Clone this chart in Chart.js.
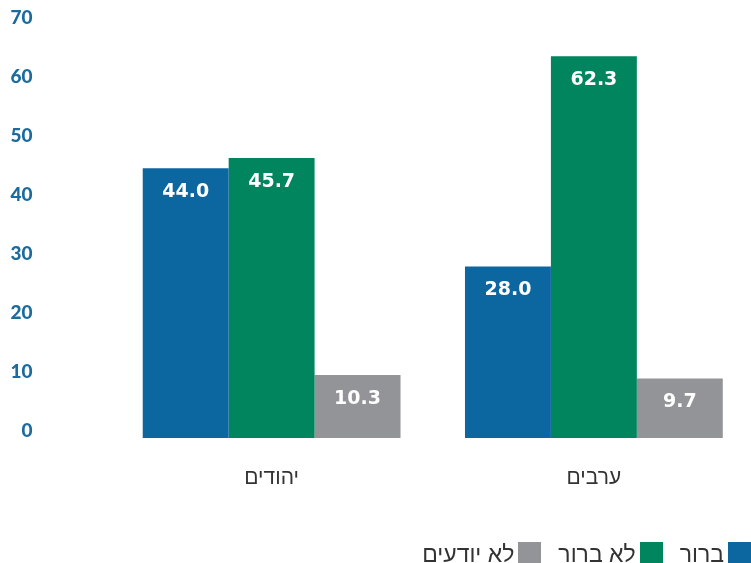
<!DOCTYPE html>
<html>
<head>
<meta charset="utf-8">
<script src="https://cdn.jsdelivr.net/npm/chart.js@4/dist/chart.umd.min.js"></script>
<style>
    html, body { margin: 0; padding: 0; background: #fff; overflow: hidden; }
    #wrap { position: relative; width: 751px; height: 563px; overflow: hidden; }
    #chartBox { position: absolute; left: 0; top: 0; width: 755px; height: 563px; }
    #legend {
        position: absolute; right: 0; bottom: 0;
        display: flex; align-items: flex-end; gap: 17px;
        font-family: "Liberation Sans", Arial, sans-serif; font-size: 23px; color: #333;
    }
    .item { display: flex; align-items: flex-end; gap: 4px; }
    .box { width: 23px; height: 21px; }
    .lbl { line-height: 20px; position: relative; top: 1px; }
</style>
</head>
<body>
<div id="wrap">
    <div id="chartBox"><canvas id="pollChart" width="755" height="563"></canvas></div>
    <div id="legend" dir="rtl"></div>
</div>
<script>
// categories and series
var groups = ['יהודים', 'ערבים'];
var seriesNames = ['ברור', 'לא ברור', 'לא יודעים'];
var clearValues = [44.0, 28.0];
var unclearValues = [45.7, 62.3];
var dontKnowValues = [10.3, 9.7];
var seriesColors = ['#0c67a0', '#00855f', '#939498'];

// Function to draw the values inside the top of each bar
var valueLabels = {
    id: 'valueLabels',
    afterDatasetsDraw: function (chart) {
        var ctx = chart.ctx;
        ctx.save();
        ctx.fillStyle = '#fff';
        ctx.font = 'bold 19px "DejaVu Sans"';
        ctx.textAlign = 'center';
        ctx.textBaseline = 'middle';
        chart.data.datasets.forEach(function (ds, i) {
            chart.getDatasetMeta(i).data.forEach(function (bar, j) {
                ctx.fillText(ds.data[j].toFixed(1), bar.x, bar.y + 24);
            });
        });
        ctx.restore();
    }
};

var ctx = document.getElementById('pollChart').getContext('2d');
var pollChart = new Chart(ctx, {
    type: 'bar',
    data: {
        labels: groups,
        datasets: [
            { label: seriesNames[0], data: clearValues, backgroundColor: seriesColors[0] },
            { label: seriesNames[1], data: unclearValues, backgroundColor: seriesColors[1] },
            { label: seriesNames[2], data: dontKnowValues, backgroundColor: seriesColors[2] }
        ]
    },
    options: {
        responsive: false,
        animation: false,
        layout: { padding: { top: 9, right: 0, left: 0, bottom: 0 } },
        datasets: {
            bar: { categoryPercentage: 0.8, barPercentage: 1.0 }
        },
        scales: {
            x: {
                grid: { display: false, drawTicks: false },
                border: { display: false },
                ticks: {
                    color: '#333',
                    padding: 28,
                    font: { family: '"Liberation Sans", Arial, sans-serif', size: 21 }
                },
                afterFit: function (scale) { scale.height = 125; }
            },
            y: {
                display: false,
                min: 0,
                max: 70
            },
            // tick labels in the original sit on a slightly tighter spacing than the bars
            yTicks: {
                position: 'left',
                min: -1.19,
                max: 71.53,
                grid: { display: false, drawTicks: false },
                border: { display: false },
                ticks: {
                    stepSize: 10,
                    includeBounds: false,
                    color: '#1b6b9e',
                    padding: 78,
                    font: { family: 'Lato', weight: 900, size: 19 }
                },
                afterFit: function (scale) {
                    scale.width = 110.5;
                    scale.paddingTop = 0;
                    scale.paddingBottom = 0;
                }
            }
        },
        plugins: {
            legend: { display: false },
            tooltip: { enabled: false }
        }
    },
    plugins: [valueLabels]
});

// HTML legend at the bottom right
var legendEl = document.getElementById('legend');
pollChart.data.datasets.forEach(function (ds) {
    var item = document.createElement('div');
    item.className = 'item';
    item.innerHTML = '<span class="box" style="background:' + ds.backgroundColor + '"></span><span class="lbl">' + ds.label + '</span>';
    legendEl.appendChild(item);
});
</script>
</body>
</html>
